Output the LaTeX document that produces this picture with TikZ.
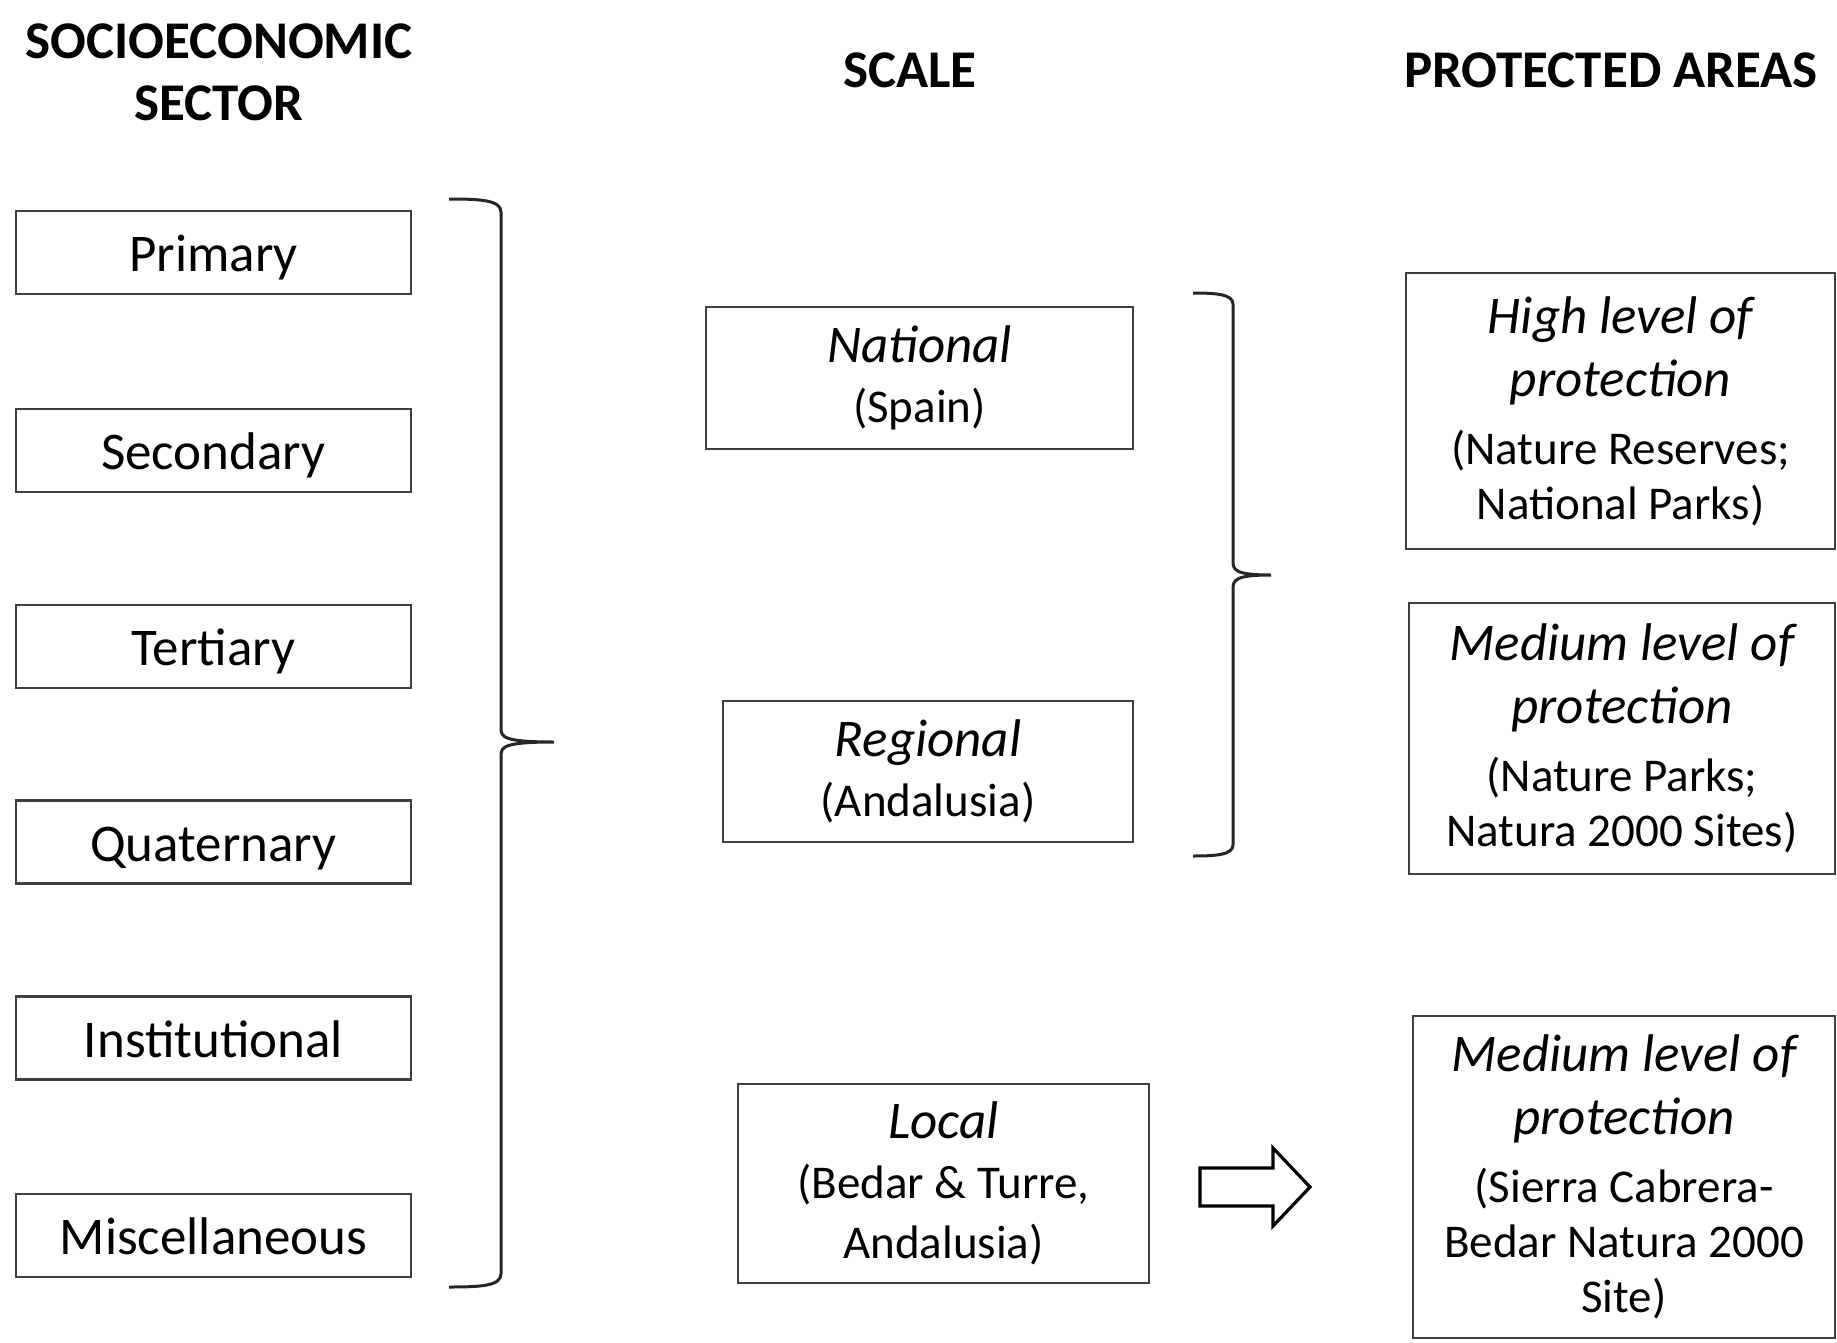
\documentclass[tikz,border=0pt]{standalone}
\usepackage{fontspec}
\setmainfont{Carlito}
\newcommand{\ttl}[1]{{\fontsize{26.5}{31.5}\selectfont\itshape #1}}
\begin{document}
\begin{tikzpicture}[x=0.5pt,y=-0.5pt,
  box/.style={draw=black!75, line width=1.1pt, inner sep=0pt, align=center},
  sect/.style={box, minimum width=197.5pt, minimum height=41.5pt, text height=19pt, text depth=0pt, font=\fontsize{26.5}{31.5}\selectfont},
  scl/.style={box, font=\fontsize{23.5}{30}\selectfont},
  prot/.style={box, font=\fontsize{23.5}{27.5}\selectfont},
  head/.style={font=\fontsize{26.5}{31}\selectfont\bfseries, align=center, inner sep=0pt},
  brace/.style={draw=black!85, line width=1.5pt, line join=round}]
\useasboundingbox[fill=white] (0,0) rectangle (1837,1343);

% headers
\node[head] (h1) at (219,72) {SOCIOECONOMIC\\SECTOR};
\node[head] (h2) at (910,70) {SCALE};
\node[head] (h3) at (1611,70) {PROTECTED AREAS};

% sectors
\node[sect] (s1) at (213.5,252.5) {Primary};
\node[sect] (s2) at (213.5,450.5) {Secondary};
\node[sect] (s3) at (213.5,646.5) {Tertiary};
\node[sect] (s4) at (213.5,842) {Quaternary};
\node[sect] (s5) at (213.5,1038) {Institutional};
\node[sect] (s6) at (213.5,1235.5) {Miscellaneous};

% scale
\node[scl, minimum width=213.5pt, minimum height=71pt] (nat) at (919.5,378) {\ttl{National}\\(Spain)};
\node[scl, minimum width=205pt, minimum height=70.5pt] (reg) at (928,771.5) {\ttl{Regional}\\(Andalusia)};
\node[scl, minimum width=205.5pt, minimum height=99.5pt] (loc) at (943.5,1183.5) {\ttl{Local}\\(Bedar \& Turre,\\Andalusia)};

% protected areas
\node[prot, minimum width=214.5pt, minimum height=138pt] (p1) at (1620.5,411)
  {\ttl{High level of}\\[4pt]\ttl{protection}\\[6.5pt](Nature Reserves;\\National Parks)};
\node[prot, minimum width=213pt, minimum height=135.5pt] (p2) at (1622,738.5)
  {\ttl{Medium level of}\\[4pt]\ttl{protection}\\[6.5pt](Nature Parks;\\Natura 2000 Sites)};
\node[prot, minimum width=211pt, minimum height=161pt] (p3) at (1624,1177)
  {\ttl{Medium level of}\\[4pt]\ttl{protection}\\[6.5pt](Sierra Cabrera-\\Bedar Natura 2000\\Site)};

% left brace
\coordinate (lbt) at (554,742);
\draw[brace] (449,199) .. controls (480,199) and (501,200) .. (501,212) -- (501,728)
  .. controls (501,737) and (503,742) .. (lbt)
  (lbt) .. controls (503,742) and (501,747) .. (501,756) -- (501,1274)
  .. controls (501,1286) and (480,1287) .. (449,1287);

% right brace
\coordinate (rbt) at (1271,575);
\draw[brace] (1193,293) .. controls (1215,293) and (1233,294) .. (1233,304) -- (1233,561)
  .. controls (1233,570) and (1235,575) .. (rbt)
  (rbt) .. controls (1235,575) and (1233,580) .. (1233,589) -- (1233,845)
  .. controls (1233,855) and (1215,856) .. (1193,856);

% block arrow
\draw[line width=1.6pt, line join=miter, fill=white] (1200,1168) -- (1273,1168) -- (1273,1148)
  -- (1310,1187) -- (1273,1226) -- (1273,1206) -- (1200,1206) -- cycle;
\end{tikzpicture}
\end{document}
